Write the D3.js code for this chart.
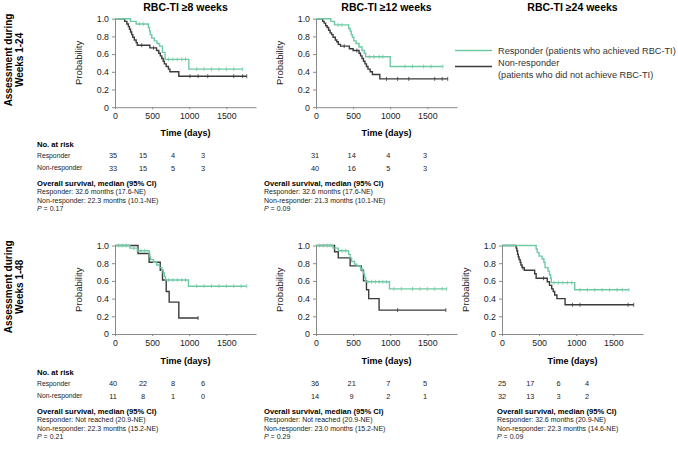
<!DOCTYPE html>
<html lang="en">
<head>
  <meta charset="UTF-8">
  <title>Overall survival by RBC-TI response</title>
  <script src="https://d3js.org/d3.v7.min.js"></script>
  <style>
    body { margin: 0; background: #fff; }
    svg { font-family: "Liberation Sans", Arial, sans-serif; }
    .axis path, .axis line { stroke: #8a8a8a; }
    .axis text { font-size: 8.8px; fill: #222; }
  </style>
</head>
<body>
  <svg id="chart" width="678" height="456"></svg>

  <script>
    // Titles and tick labels
    const colTitles = ["RBC-TI \u22658 weeks", "RBC-TI \u226512 weeks", "RBC-TI \u226524 weeks"];
    const rowLabels = [["Assessment during", "Weeks 1-24"], ["Assessment during", "Weeks 1-48"]];
    const xTicks = [0, 500, 1000, 1500];
    const yTicks = [0, 0.2, 0.4, 0.6, 0.8, 1.0];

    // Kaplan-Meier steps: [day, survival after drop]; censor days; last follow-up day
    // Weeks 1-24, >=8 weeks
    const r1c1Resp = [[210,0.97],[285,0.94],[450,0.90],[465,0.86],[475,0.82],[495,0.78],[530,0.75],[565,0.72],[600,0.69],[640,0.62],[675,0.54],[995,0.43]];
    const r1c1RespCens = [330,380,720,780,840,900,950,1100,1200,1300,1400,1500,1600,1720];
    const r1c1Non = [[130,0.97],[160,0.94],[180,0.91],[195,0.88],[210,0.85],[225,0.82],[240,0.79],[260,0.76],[285,0.73],[300,0.70],[470,0.67],[560,0.64],[590,0.61],[610,0.58],[630,0.55],[650,0.52],[665,0.49],[690,0.46],[720,0.43],[740,0.40],[860,0.35]];
    const r1c1NonCens = [360,520,1010,1120,1250,1600,1720,1775];
    // Weeks 1-24, >=12 weeks
    const r1c2Resp = [[200,0.97],[250,0.93],[440,0.89],[460,0.86],[475,0.82],[490,0.79],[510,0.75],[540,0.72],[580,0.68],[620,0.64],[650,0.61],[670,0.57],[1000,0.46]];
    const r1c2RespCens = [300,350,720,780,850,900,1200,1300,1450,1550,1710];
    const r1c2Non = [[90,0.97],[110,0.95],[130,0.92],[150,0.90],[170,0.87],[190,0.84],[210,0.82],[230,0.79],[260,0.76],[280,0.74],[300,0.71],[330,0.69],[450,0.66],[500,0.64],[580,0.61],[600,0.58],[620,0.55],[640,0.52],[660,0.49],[680,0.46],[700,0.43],[730,0.40],[760,0.37],[860,0.32]];
    const r1c2NonCens = [380,550,950,1100,1250,1600,1700,1775];
    // Weeks 1-48, >=8 weeks
    const r2c1Resp = [[200,0.97],[300,0.94],[460,0.91],[470,0.87],[480,0.84],[520,0.81],[560,0.78],[600,0.75],[630,0.72],[650,0.69],[665,0.65],[680,0.61],[990,0.54]];
    const r2c1RespCens = [50,100,150,250,350,400,720,780,840,900,950,1100,1200,1300,1400,1500,1600,1700,1775];
    const r2c1Non = [[310,0.91],[460,0.81],[610,0.72],[640,0.61],[690,0.48],[730,0.36],[860,0.18]];
    const r2c1NonCens = [1120];
    // Weeks 1-48, >=12 weeks
    const r2c2Resp = [[230,0.97],[300,0.94],[440,0.90],[460,0.86],[480,0.82],[520,0.79],[550,0.77],[600,0.74],[620,0.71],[640,0.68],[655,0.64],[670,0.59],[990,0.51]];
    const r2c2RespCens = [50,100,150,200,350,400,700,750,800,850,900,950,1050,1150,1300,1400,1500,1600,1700,1760];
    const r2c2Non = [[250,0.93],[300,0.86],[460,0.77],[610,0.72],[640,0.60],[680,0.50],[710,0.40],[850,0.27]];
    const r2c2NonCens = [1100,1750];
    // Weeks 1-48, >=24 weeks
    const r2c3Resp = [[460,0.96],[475,0.92],[500,0.88],[540,0.85],[565,0.81],[580,0.75],[620,0.71],[640,0.67],[655,0.63],[665,0.58],[980,0.50]];
    const r2c3RespCens = [700,760,820,880,940,1050,1150,1250,1350,1450,1550,1620,1710];
    const r2c3Non = [[190,0.97],[200,0.94],[210,0.90],[220,0.87],[230,0.84],[245,0.81],[255,0.78],[270,0.75],[300,0.72],[440,0.68],[460,0.63],[610,0.59],[640,0.55],[670,0.51],[690,0.48],[710,0.44],[740,0.40],[850,0.33]];
    const r2c3NonCens = [280,560,950,1050,1700,1775];

    // Numbers at risk at 0, 500, 1000, 1500 days
    const r1c1RiskResp = [35, 15, 4, 3], r1c1RiskNon = [33, 15, 5, 3];
    const r1c2RiskResp = [31, 14, 4, 3], r1c2RiskNon = [40, 16, 5, 3];
    const r2c1RiskResp = [40, 22, 8, 6], r2c1RiskNon = [11, 8, 1, 0];
    const r2c2RiskResp = [36, 21, 7, 5], r2c2RiskNon = [14, 9, 2, 1];
    const r2c3RiskResp = [25, 17, 6, 4], r2c3RiskNon = [32, 13, 3, 2];

    // Overall survival summaries
    const r1c1Stats = ["Responder: 32.6 months (17.6-NE)", "Non-responder: 22.3 months (10.1-NE)", "0.17"];
    const r1c2Stats = ["Responder: 32.6 months (17.6-NE)", "Non-responder: 21.3 months (10.1-NE)", "0.09"];
    const r2c1Stats = ["Responder: Not reached (20.9-NE)", "Non-responder: 22.3 months (15.2-NE)", "0.21"];
    const r2c2Stats = ["Responder: Not reached (20.9-NE)", "Non-responder: 23.0 months (15.2-NE)", "0.29"];
    const r2c3Stats = ["Responder: 32.6 months (20.9-NE)", "Non-responder: 22.3 months (14.6-NE)", "0.09"];

    const panels = [
      { row: 0, col: 0, resp: r1c1Resp, respCens: r1c1RespCens, respEnd: 1720, non: r1c1Non, nonCens: r1c1NonCens, nonEnd: 1775, riskResp: r1c1RiskResp, riskNon: r1c1RiskNon, stats: r1c1Stats },
      { row: 0, col: 1, resp: r1c2Resp, respCens: r1c2RespCens, respEnd: 1710, non: r1c2Non, nonCens: r1c2NonCens, nonEnd: 1775, riskResp: r1c2RiskResp, riskNon: r1c2RiskNon, stats: r1c2Stats },
      { row: 1, col: 0, resp: r2c1Resp, respCens: r2c1RespCens, respEnd: 1775, non: r2c1Non, nonCens: r2c1NonCens, nonEnd: 1120, riskResp: r2c1RiskResp, riskNon: r2c1RiskNon, stats: r2c1Stats },
      { row: 1, col: 1, resp: r2c2Resp, respCens: r2c2RespCens, respEnd: 1760, non: r2c2Non, nonCens: r2c2NonCens, nonEnd: 1750, riskResp: r2c2RiskResp, riskNon: r2c2RiskNon, stats: r2c2Stats },
      { row: 1, col: 2, resp: r2c3Resp, respCens: r2c3RespCens, respEnd: 1710, non: r2c3Non, nonCens: r2c3NonCens, nonEnd: 1775, riskResp: r2c3RiskResp, riskNon: r2c3RiskNon, stats: r2c3Stats }
    ];

    const GREEN = "#6fcaa4", DARK = "#3b3b3b";

    // Layout
    const colX = [115, 316, 502];
    const plotW = 141, plotH = 88.5;
    const rowTop = [18.7, 245.5];
    const riskRange = [[113, 203], [315, 425], [502, 587]];
    const statsX = [37, 264, 497];
    const textTop = [133, 361];   // "Time (days)" line per row

    const svg = d3.select("#chart");

    // Column titles
    svg.selectAll(".col-title")
      .data(colTitles)
      .join("text")
      .attr("x", (d, i) => colX[i] + plotW / 2)
      .attr("y", 7)
      .attr("dy", "0.35em")
      .attr("text-anchor", "middle")
      .style("font-size", "10.5px")
      .style("font-weight", "bold")
      .text(d => d);

    // Row labels (rotated)
    rowLabels.forEach((lines, r) => {
      const cy = rowTop[r] + plotH / 2 - 3;
      lines.forEach((t, k) => {
        svg.append("text")
          .attr("transform", `translate(${8 + k * 11},${cy}) rotate(-90)`)
          .attr("text-anchor", "middle")
          .attr("dy", "0.35em")
          .style("font-size", "10px")
          .style("font-weight", "bold")
          .text(t);
      });
    });

    // Legend
    const legend = [
      { color: GREEN, y: 50.5, lines: ["Responder (patients who achieved RBC-TI)"] },
      { color: DARK, y: 66.5, lines: ["Non-responder", "(patients who did not achieve RBC-TI)"] }
    ];
    legend.forEach(l => {
      svg.append("line")
        .attr("x1", 455).attr("x2", 492)
        .attr("y1", l.y).attr("y2", l.y)
        .attr("stroke", l.color).attr("stroke-width", 1.6);
      l.lines.forEach((t, k) => {
        svg.append("text")
          .attr("x", 498)
          .attr("y", l.lines.length > 1 ? l.y - 4 + k * 12.5 : l.y)
          .attr("dy", "0.35em")
          .style("font-size", "9.2px")
          .style("fill", "#333")
          .text(t);
      });
    });

    const stepValue = (steps, t) => {
      let v = 1;
      steps.forEach(s => { if (s[0] <= t) v = s[1]; });
      return v;
    };

    panels.forEach(p => {
      const x0 = colX[p.col], y0 = rowTop[p.row];
      const g = svg.append("g").attr("transform", `translate(${x0},${y0})`);

      const x = d3.scaleLinear().domain([0, 1900]).range([0, plotW]);
      const y = d3.scaleLinear().domain([0, 1]).range([plotH, 0]);

      g.append("g")
        .attr("class", "axis")
        .attr("transform", `translate(0,${plotH})`)
        .call(d3.axisBottom(x).tickValues(xTicks).tickSize(2).tickSizeOuter(0).tickPadding(4)
          .tickFormat(d3.format("d")));

      g.append("g")
        .attr("class", "axis")
        .call(d3.axisLeft(y).tickValues(yTicks).tickSize(3).tickSizeOuter(0).tickPadding(3)
          .tickFormat(d => d === 0 ? "0" : d3.format(".1f")(d)));

      g.append("text")
        .attr("transform", `translate(-36,${plotH / 2}) rotate(-90)`)
        .attr("text-anchor", "middle")
        .attr("dy", "0.35em")
        .style("font-size", "9.5px")
        .style("fill", "#222")
        .text("Probability");

      g.append("text")
        .attr("x", plotW / 2)
        .attr("y", textTop[p.row] - y0)
        .attr("dy", "0.35em")
        .attr("text-anchor", "middle")
        .style("font-size", "9px")
        .style("font-weight", "bold")
        .text("Time (days)");

      const line = d3.line()
        .x(d => x(d[0]))
        .y(d => y(d[1]))
        .curve(d3.curveStepAfter);

      const curves = [
        { steps: p.non, cens: p.nonCens, end: p.nonEnd, color: DARK },
        { steps: p.resp, cens: p.respCens, end: p.respEnd, color: GREEN }
      ];
      curves.forEach(c => {
        const last = c.steps[c.steps.length - 1][1];
        const pts = [[0, 1], ...c.steps, [c.end, last]];
        g.append("path")
          .attr("d", line(pts))
          .attr("fill", "none")
          .attr("stroke", c.color)
          .attr("stroke-width", 1.4);
        g.selectAll(null)
          .data(c.cens)
          .join("line")
          .attr("x1", d => x(d)).attr("x2", d => x(d))
          .attr("y1", d => y(stepValue(c.steps, d)) - 2)
          .attr("y2", d => y(stepValue(c.steps, d)) + 2)
          .attr("stroke", c.color)
          .attr("stroke-width", 0.8);
      });

      // Numbers at risk
      const rx = d3.scalePoint().domain(xTicks).range(riskRange[p.col]);
      const base = textTop[p.row];
      if (p.col === 0) {
        svg.append("text")
          .attr("x", statsX[0]).attr("y", base + 11).attr("dy", "0.35em")
          .style("font-size", "7.6px").style("font-weight", "bold")
          .text("No. at risk");
        [["Responder", 22.5], ["Non-responder", 35]].forEach(([t, dy]) => {
          svg.append("text")
            .attr("x", statsX[0]).attr("y", base + dy).attr("dy", "0.35em")
            .style("font-size", "6.8px").style("fill", "#222")
            .text(t);
        });
      }
      [[p.riskResp, 22.5], [p.riskNon, 35]].forEach(([vals, dy]) => {
        svg.selectAll(null)
          .data(vals)
          .join("text")
          .attr("x", (d, i) => rx(xTicks[i]))
          .attr("y", base + dy)
          .attr("dy", "0.35em")
          .attr("text-anchor", "middle")
          .style("font-size", "7.4px").style("fill", "#222")
          .text(d => d);
      });

      // Overall survival summary
      const sx = statsX[p.col];
      svg.append("text")
        .attr("x", sx).attr("y", base + 50).attr("dy", "0.35em")
        .style("font-size", "7.6px").style("font-weight", "bold")
        .text("Overall survival, median (95% CI)");
      p.stats.slice(0, 2).forEach((t, k) => {
        svg.append("text")
          .attr("x", sx).attr("y", base + 58.7 + k * 8.6).attr("dy", "0.35em")
          .style("font-size", "7px").style("fill", "#222")
          .text(t);
      });
      const pt = svg.append("text")
        .attr("x", sx).attr("y", base + 75.5).attr("dy", "0.35em")
        .style("font-size", "7px").style("fill", "#222");
      pt.append("tspan").style("font-style", "italic").text("P");
      pt.append("tspan").text(" = " + p.stats[2]);
    });
  </script>
</body>
</html>
